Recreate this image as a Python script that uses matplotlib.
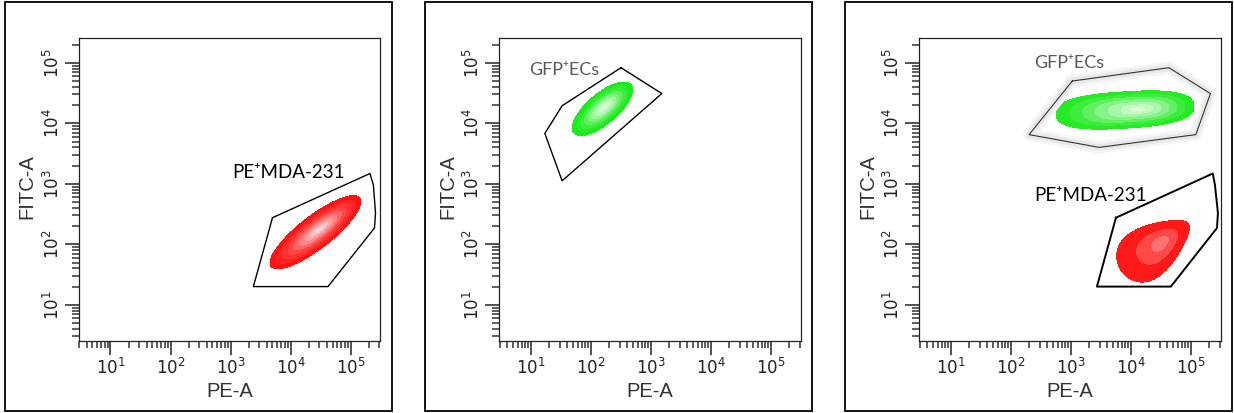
import numpy as np
import matplotlib
matplotlib.use('Agg')
import matplotlib.pyplot as plt
import matplotlib.patheffects as pe
from matplotlib.colors import LinearSegmentedColormap
from matplotlib.patches import Rectangle
from matplotlib.ticker import FixedLocator, LogLocator, NullFormatter

# --- dados (escala log, valores em unidades de fluorescencia) ---
tick_vals = [1e1, 1e2, 1e3, 1e4, 1e5]
tick_labels = [r'$10^{1}$', r'$10^{2}$', r'$10^{3}$', r'$10^{4}$', r'$10^{5}$']

# gates (poligonos)
red_gate1_x = [5.0e3, 2.1e5, 2.4e5, 2.6e5, 2.5e5, 4.2e4, 2.4e3]
red_gate1_y = [275, 1480, 950, 330, 186, 20, 20]

green_gate2_x = [316, 1510, 33, 17, 33]
green_gate2_y = [83000, 31000, 1120, 6800, 19500]

green_gate3_x = [1050, 42700, 2.1e5, 1.2e5, 2950, 200]
green_gate3_y = [50000, 83000, 31000, 6500, 4000, 6500]

red_gate3_x = [5.6e3, 2.3e5, 2.5e5, 2.8e5, 2.7e5, 4.6e4, 2.7e3]
red_gate3_y = [275, 1480, 950, 330, 186, 20, 20]

# populacoes: centro (x, y), semi-eixos (decadas), angulo (graus), deslocamento do pico, afinamento, expoente
red_pop1 = dict(cx=2.6e4, cy=158, a=0.93, b=0.27, ang=37.5, shift=0.10, taper=0.0, p=2.0)
green_pop2 = dict(cx=155, cy=17400, a=0.62, b=0.25, ang=40.0, shift=0.05, taper=0.0, p=2.0)
green_pop3 = dict(cx=7900, cy=16600, a=1.15, b=0.30, ang=3.5, shift=0.27, taper=0.0, p=2.6)
red_pop3 = dict(cx=2.5e4, cy=89, a=0.68, b=0.40, ang=35.0, shift=0.15, taper=0.4, p=2.0)

label_pe = 'PE\u207aMDA-231'
label_gfp = 'GFP\u207aECs'

XLIM = (10 ** 0.467, 10 ** 5.49)
YLIM = (10 ** 0.41, 10 ** 5.41)

plt.rcParams['mathtext.fontset'] = 'custom'
plt.rcParams['mathtext.rm'] = 'Liberation Sans Narrow'
plt.rcParams['mathtext.it'] = 'Liberation Sans Narrow'
plt.rcParams['mathtext.sf'] = 'Liberation Sans Narrow'
plt.rcParams['font.family'] = ['Liberation Sans', 'DejaVu Sans']

TXT_FONT = ['Lato', 'DejaVu Sans']


def density(ax, pop, colors=None, cmap=None, levels=None):
    gx = np.linspace(np.log10(XLIM[0]), np.log10(XLIM[1]), 500)
    gy = np.linspace(np.log10(YLIM[0]), np.log10(YLIM[1]), 500)
    GX, GY = np.meshgrid(gx, gy)
    dx = GX - np.log10(pop['cx'])
    dy = GY - np.log10(pop['cy'])
    th = np.deg2rad(pop['ang'])
    u = dx * np.cos(th) + dy * np.sin(th)
    v = -dx * np.sin(th) + dy * np.cos(th)
    bb = pop['b'] * np.clip(1 - pop['taper'] * u / pop['a'], 0.2, None)
    p = pop['p']
    rho = (np.abs(u / pop['a']) ** p + np.abs(v / bb) ** p) ** (1 / p)
    us = u - pop['shift'] * (1 - np.clip(rho, 0, 1))
    t = (np.abs(us / pop['a']) ** p + np.abs(v / bb) ** p) ** (1 / p)
    t = np.where(rho >= 1, rho, np.minimum(t, 0.999))
    if colors is not None:
        ax.contourf(10 ** GX, 10 ** GY, t, levels=levels, colors=colors, zorder=2)
    else:
        ax.contourf(10 ** GX, 10 ** GY, t, levels=levels, cmap=cmap, vmin=0, vmax=1, zorder=2)


def gate(ax, xs, ys, color='black', lw=1.0, glow=False):
    xs = list(xs) + [xs[0]]
    ys = list(ys) + [ys[0]]
    line, = ax.plot(xs, ys, color=color, lw=lw, zorder=3)
    if glow:
        line.set_path_effects([pe.Stroke(linewidth=9, foreground='#f5f5f5'),
                               pe.Stroke(linewidth=5, foreground='#e8e8e8'),
                               pe.Normal()])


def setup_axes(ax):
    ax.set_xscale('log')
    ax.set_yscale('log')
    ax.set_xlim(XLIM)
    ax.set_ylim(YLIM)
    for s in ax.spines.values():
        s.set_linewidth(0.9)
        s.set_color('#222222')
    for axis in (ax.xaxis, ax.yaxis):
        axis.set_major_locator(FixedLocator(tick_vals))
        axis.set_minor_locator(LogLocator(base=10, subs=np.arange(2, 10)))
        axis.set_minor_formatter(NullFormatter())
    ax.set_xticklabels(tick_labels)
    ax.set_yticklabels(tick_labels, rotation=90, va='center')
    ax.tick_params(which='major', direction='out', length=10, width=1.2,
                   color='#333333', labelsize=12, labelcolor='#222222', pad=2)
    ax.tick_params(which='minor', direction='out', length=5, width=1.1, color='#333333')
    ax.set_xlabel('PE-A', fontsize=14.5, color='#333333')
    ax.set_ylabel('FITC-A', fontsize=14.5, color='#333333')
    ax.xaxis.set_label_coords(0.5, -0.17)
    ax.xaxis.label.set_va('center')
    ax.yaxis.set_label_coords(-0.17, 0.51)
    ax.yaxis.label.set_va('center')


W, H = 1234, 413
fig = plt.figure(figsize=(W / 100, H / 100), dpi=100)

# molduras dos paineis (px)
for x0, x1 in [(5, 392), (425, 812), (845, 1232)]:
    fig.add_artist(Rectangle((x0 / W, 1 - 411 / H), (x1 - x0) / W, 409 / H,
                             transform=fig.transFigure, fill=False, lw=1.3, ec='black'))

axes = []
for left in (78.5, 499, 919):
    ax = fig.add_axes([left / W, 1 - 340.5 / H, 301.5 / W, 302.5 / H])
    setup_axes(ax)
    axes.append(ax)

red_cmap = LinearSegmentedColormap.from_list(
    'red', [(0, '#fff2f2'), (0.3, '#ff9c9c'), (0.65, '#ff3c3c'), (1, '#ff0a0a')])
green_cmap = LinearSegmentedColormap.from_list(
    'green', [(0, '#f0fff0'), (0.35, '#a8f5a8'), (0.7, '#40ee40'), (1, '#12ea12')])
green_cmap3 = LinearSegmentedColormap.from_list(
    'green3', [(0, '#e8ffe8'), (0.4, '#a0f5a0'), (0.75, '#44ee44'), (1, '#18ea18')])

# painel 1
ax = axes[0]
density(ax, red_pop1, cmap=red_cmap, levels=np.linspace(0, 1, 10))
gate(ax, red_gate1_x, red_gate1_y, lw=1.0)
ax.text(10 ** 3.03, 10 ** 3.18, label_pe, fontsize=13.5, family=TXT_FONT,
        color='black', ha='left', va='center')

# painel 2
ax = axes[1]
density(ax, green_pop2, cmap=green_cmap, levels=np.linspace(0, 1, 10))
gate(ax, green_gate2_x, green_gate2_y, lw=1.0)
ax.text(10 ** 0.97, 10 ** 4.88, label_gfp, fontsize=13, family=TXT_FONT,
        color='#595959', ha='left', va='center')

# painel 3
ax = axes[2]
gate(ax, green_gate3_x, green_gate3_y, color='#333333', lw=0.8, glow=True)
density(ax, green_pop3, cmap=green_cmap3, levels=np.linspace(0, 1, 8))
density(ax, red_pop3, colors=['#ff7272', '#ff4848', '#ff1a1a'], levels=[0, 0.3, 0.62, 1.0])
gate(ax, red_gate3_x, red_gate3_y, lw=1.4)
ax.text(10 ** 2.38, 10 ** 5.0, label_gfp, fontsize=13, family=TXT_FONT,
        color='#595959', ha='left', va='center')
ax.text(10 ** 2.38, 10 ** 2.80, label_pe, fontsize=13.5, family=TXT_FONT,
        color='black', ha='left', va='center')

fig.savefig('out.png', dpi=100)
